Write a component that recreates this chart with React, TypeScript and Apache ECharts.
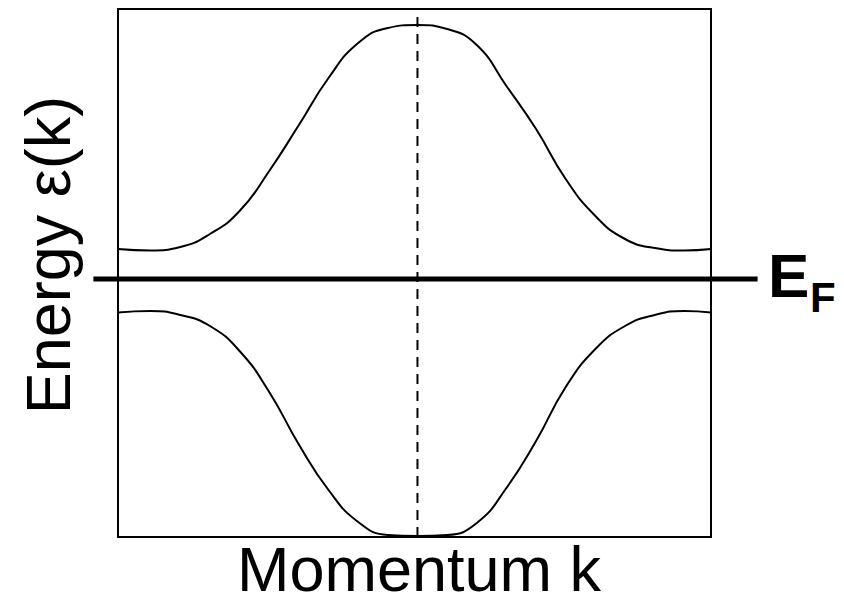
import React, { useEffect, useRef } from "react";
import * as echarts from "echarts";

// Crystal momentum across the zone and the two bands around the gap.
const momentumK = [-1.01, -0.9, -0.8, -0.7, -0.6, -0.5, -0.4, -0.3, -0.2, -0.1, 0, 0.1, 0.2, 0.3, 0.4, 0.5, 0.6, 0.7, 0.8, 0.9, 0.99];
const upperBand = [0.3, 0.285, 0.32, 0.45, 0.68, 1.08, 1.54, 2.01, 2.36, 2.51, 2.54, 2.5, 2.34, 1.93, 1.5, 1.0, 0.63, 0.4, 0.31, 0.285, 0.3];
const lowerBand = [-0.335, -0.32, -0.36, -0.47, -0.72, -1.13, -1.655, -2.11, -2.43, -2.56, -2.57, -2.56, -2.44, -2.09, -1.62, -1.08, -0.7, -0.47, -0.36, -0.32, -0.335];

// Fermi level and the horizontal reach of its line (it runs past the frame).
const fermiEnergy = 0;
const fermiLineK = [-1.095, 1.149];

const kRange = [-1.01, 0.99];
// Same k scale stretched over the full canvas width, for the Fermi line.
const kRangeWide = [-1.4105, 1.4409];
const energyRange = [-2.58, 2.7];

const xLabel = "Momentum k";
const yLabel = "Energy ε(k)";

const hiddenAxis = {
  type: "value",
  axisLine: { show: false },
  axisTick: { show: false },
  axisLabel: { show: false },
  splitLine: { show: false },
};

export default function App() {
  const ref = useRef<HTMLDivElement>(null);

  useEffect(() => {
    if (!ref.current) return;
    const chart = echarts.init(ref.current, null, { renderer: "svg" });

    const band = (vals: number[]) => momentumK.map((k, i) => [k, vals[i]]);

    chart.setOption({
      animation: false,
      backgroundColor: "#ffffff",
      grid: [
        {
          left: 118,
          right: 133,
          top: 9,
          bottom: 58,
          show: true,
          borderColor: "#000",
          borderWidth: 2,
          backgroundColor: "transparent",
        },
        { left: 0, right: 0, top: 9, bottom: 58, show: false },
      ],
      xAxis: [
        { ...hiddenAxis, gridIndex: 0, min: kRange[0], max: kRange[1] },
        { ...hiddenAxis, gridIndex: 1, min: kRangeWide[0], max: kRangeWide[1] },
      ],
      yAxis: [
        { ...hiddenAxis, gridIndex: 0, min: energyRange[0], max: energyRange[1] },
        { ...hiddenAxis, gridIndex: 1, min: energyRange[0], max: energyRange[1] },
      ],
      series: [
        {
          type: "line",
          data: band(upperBand),
          smooth: 0.5,
          showSymbol: false,
          lineStyle: { color: "#000", width: 2 },
        },
        {
          type: "line",
          data: band(lowerBand),
          smooth: 0.5,
          showSymbol: false,
          lineStyle: { color: "#000", width: 2 },
        },
        {
          type: "line",
          data: [
            [0, energyRange[0]],
            [0, energyRange[1]],
          ],
          showSymbol: false,
          lineStyle: { color: "#000", width: 2, type: [10, 7] },
        },
        {
          type: "line",
          xAxisIndex: 1,
          yAxisIndex: 1,
          data: fermiLineK.map((k) => [k, fermiEnergy]),
          showSymbol: false,
          lineStyle: { color: "#000", width: 5, cap: "butt" },
        },
      ],
      graphic: [
        {
          type: "text",
          x: 419,
          y: 569,
          style: {
            text: xLabel,
            fontFamily: "Liberation Sans, Arial, sans-serif",
            fontSize: 63,
            lineHeight: 48,
            fill: "#000",
            align: "center",
            verticalAlign: "middle",
          },
        },
        {
          type: "text",
          x: 48,
          y: 255,
          rotation: Math.PI / 2,
          style: {
            text: yLabel,
            fontFamily: "Liberation Sans, Arial, sans-serif",
            fontSize: 63,
            fill: "#000",
            align: "center",
            verticalAlign: "middle",
          },
        },
        {
          type: "text",
          x: 768,
          y: 275,
          style: {
            text: "E",
            fontFamily: "Liberation Sans, Arial, sans-serif",
            fontWeight: "bold",
            fontSize: 62,
            fill: "#000",
            align: "left",
            verticalAlign: "middle",
          },
        },
        {
          type: "text",
          x: 810,
          y: 297,
          style: {
            text: "F",
            fontFamily: "Liberation Sans, Arial, sans-serif",
            fontWeight: "bold",
            fontSize: 42,
            fill: "#000",
            align: "left",
            verticalAlign: "middle",
          },
        },
      ],
    });

    return () => chart.dispose();
  }, []);

  return (
    <div
      ref={ref}
      style={{ position: "absolute", left: 0, top: 0, width: 844, height: 595 }}
    />
  );
}
